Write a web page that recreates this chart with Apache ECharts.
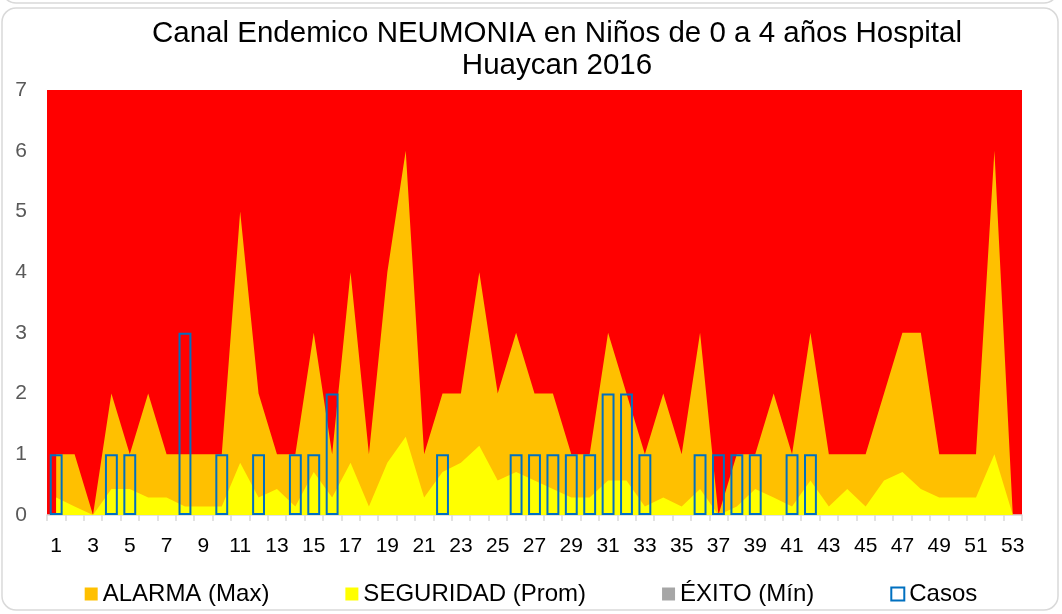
<!DOCTYPE html>
<html>
<head>
<meta charset="utf-8">
<script src="https://cdn.jsdelivr.net/npm/echarts@6/dist/echarts.min.js"></script>
<style>
  html, body { margin: 0; padding: 0; background: #ffffff; }
  #chart { width: 1062px; height: 614px; }
</style>
</head>
<body>
<div id="chart"></div>
<script>
// semanas epidemiologicas 1..53
const semanas = Array.from({ length: 53 }, (_, i) => String(i + 1));

// canal endemico (lectura del grafico)
const alarma = [1, 1, 0, 2, 1, 2, 1, 1, 1, 1,
  5, 2, 1, 1, 3, 1, 4, 1, 4, 6,
  1, 2, 2, 4, 2, 3, 2, 2, 1, 1,
  3, 2, 1, 2, 1, 3, 0, 1, 1, 2,
  1, 3, 1, 1, 1, 2, 3, 3, 1, 1,
  1, 6, 0];
const seguridad = [0.29, 0.14, 0, 0.43, 0.43, 0.29, 0.29, 0.14, 0.14, 0.14,
  0.86, 0.29, 0.43, 0.14, 0.71, 0.29, 0.86, 0.14, 0.86, 1.29,
  0.29, 0.71, 0.86, 1.14, 0.57, 0.71, 0.57, 0.43, 0.29, 0.29,
  0.57, 0.57, 0.14, 0.29, 0.14, 0.43, 0, 0.14, 0.43, 0.29,
  0.14, 0.57, 0.14, 0.43, 0.14, 0.57, 0.71, 0.43, 0.29, 0.29,
  0.29, 1, 0];
const exito = [0, 0, 0, 0, 0, 0, 0, 0, 0, 0,
  0, 0, 0, 0, 0, 0, 0, 0, 0, 0,
  0, 0, 0, 0, 0, 0, 0, 0, 0, 0,
  0, 0, 0, 0, 0, 0, 0, 0, 0, 0,
  0, 0, 0, 0, 0, 0, 0, 0, 0, 0,
  0, 0, 0];
// casos 2016
const casos = [1, 0, 0, 1, 1, 0, 0, 3, 0, 1,
  0, 1, 0, 1, 1, 2, 0, 0, 0, 0,
  0, 1, 0, 0, 0, 1, 1, 1, 1, 1,
  2, 2, 1, 0, 0, 1, 1, 1, 1, 0,
  1, 1, 0, 0, 0, 0, 0, 0, 0, 0,
  0, 0, 0];

const FONT = 'Liberation Sans, Arial, sans-serif';

const chart = echarts.init(document.getElementById('chart'));

function areaSerie(name, data, color, z) {
  return {
    name: name,
    type: 'line',
    data: data,
    z: z,
    symbol: 'none',
    showSymbol: false,
    lineStyle: { width: 0, color: color },
    itemStyle: { color: color },
    areaStyle: { color: color, opacity: 1 },
    silent: true,
  };
}

const option = {
  animation: false,
  backgroundColor: '#ffffff',
  title: {
    text: 'Canal Endemico NEUMONIA en Niños de 0 a 4 años Hospital\nHuaycan 2016',
    left: 552,
    textAlign: 'center',
    top: 13,
    textStyle: {
      fontFamily: FONT,
      fontSize: 29.5,
      fontWeight: 'normal',
      color: '#000000',
      lineHeight: 32,
    },
  },
  grid: {
    left: 47,
    right: 40,
    top: 90,
    bottom: 99,
    show: true,
    backgroundColor: '#FF0000', // zona de epidemia = fondo del area de trazado
    borderWidth: 0,
  },
  legend: {
    top: 577,
    left: 'center',
    itemGap: 76,
    itemWidth: 13,
    itemHeight: 13,
    icon: 'rect',
    textStyle: { fontFamily: FONT, fontSize: 24, color: '#000000' },
    data: [
      { name: 'ALARMA (Max)', itemStyle: { color: '#FFC000' } },
      { name: 'SEGURIDAD (Prom)', itemStyle: { color: '#FFFF00' } },
      { name: 'ÉXITO (Mín)', itemStyle: { color: '#A6A6A6' } },
      { name: 'Casos', itemStyle: { color: '#ffffff', borderColor: '#0070C0', borderWidth: 2 } },
    ],
  },
  xAxis: {
    type: 'category',
    data: semanas,
    boundaryGap: true,
    axisLine: { lineStyle: { color: '#D9D9D9', width: 1.5 } },
    axisTick: { show: true, interval: 0, length: 6, lineStyle: { color: '#D9D9D9', width: 1.5 } },
    axisLabel: {
      interval: 1,
      margin: 21,
      fontFamily: FONT,
      fontSize: 21,
      color: '#000000',
    },
  },
  yAxis: {
    type: 'value',
    min: 0,
    max: 7,
    interval: 1,
    axisLine: { show: false },
    axisTick: { show: false },
    splitLine: { show: false },
    axisLabel: {
      margin: 20,
      fontFamily: FONT,
      fontSize: 21,
      color: '#595959',
    },
  },
  series: [
    areaSerie('ALARMA (Max)', alarma, '#FFC000', 2),
    areaSerie('SEGURIDAD (Prom)', seguridad, '#FFFF00', 3),
    areaSerie('ÉXITO (Mín)', exito, '#A6A6A6', 4),
    {
      name: 'Casos',
      type: 'bar',
      z: 10,
      data: casos.map(v => (v === 0 ? '-' : v)),
      barWidth: '70%',
      itemStyle: { color: 'rgba(0,0,0,0)', borderColor: '#0070C0', borderWidth: 2 },
      silent: true,
    },
  ],
  graphic: [
    {
      type: 'rect',
      shape: { x: 2, y: 8, width: 1056, height: 602, r: 14 },
      style: { fill: 'none', stroke: '#D9D9D9', lineWidth: 1.5 },
      silent: true,
    },
    {
      type: 'rect',
      shape: { x: 2, y: -300, width: 1056, height: 303, r: 14 },
      style: { fill: 'none', stroke: '#D9D9D9', lineWidth: 1.5 },
      silent: true,
    },
  ],
};

chart.setOption(option);
</script>
</body>
</html>
